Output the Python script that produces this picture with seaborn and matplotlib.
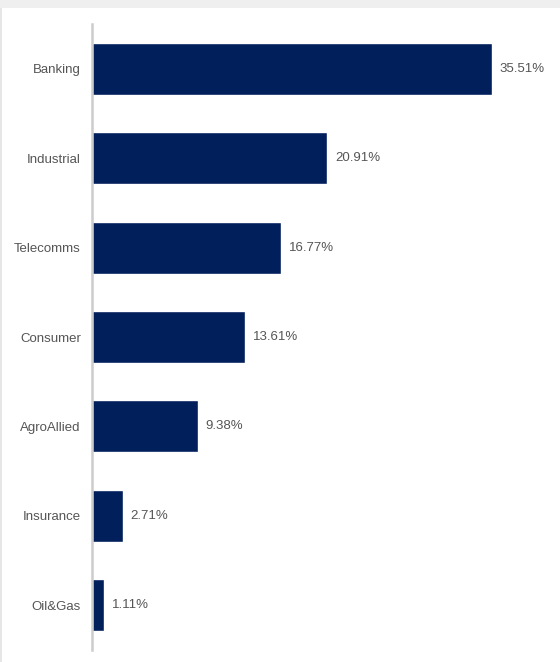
import matplotlib
matplotlib.use("Agg")
import matplotlib.pyplot as plt
import seaborn as sns
import pandas as pd
from matplotlib.patches import Rectangle

categories = ["Banking", "Industrial", "Telecomms", "Consumer", "AgroAllied", "Insurance", "Oil&Gas"]
values = [35.51, 20.91, 16.77, 13.61, 9.38, 2.71, 1.11]
labels = ["35.51%", "20.91%", "16.77%", "13.61%", "9.38%", "2.71%", "1.11%"]

sns.set_style("white")
plt.rcParams['font.family'] = ['Liberation Sans', 'DejaVu Sans']

df = pd.DataFrame({"sector": categories, "share": values})

fig = plt.figure(figsize=(5.6, 6.62), dpi=100)
fig.patch.set_facecolor("white")
# top gray band and left edge line
fig.add_artist(Rectangle((0, 1 - 8 / 662), 1, 8 / 662, transform=fig.transFigure,
                         facecolor="#efefef", edgecolor="none", zorder=0))
fig.add_artist(Rectangle((0, 0), 1.5 / 560, 1 - 8 / 662, transform=fig.transFigure,
                         facecolor="#e6e6e6", edgecolor="none", zorder=0))

ax = fig.add_axes([92 / 560, 12 / 662, 456 / 560, 626 / 662])
sns.barplot(data=df, x="share", y="sector", order=categories, color="#001f5b",
            saturation=1, width=0.58, ax=ax)
ax.set_xlim(0, 40.5)
ax.set_ylim(6.5, -0.5)
ax.set_xlabel("")
ax.set_ylabel("")
ax.set_xticks([])
for s in ["top", "right", "bottom"]:
    ax.spines[s].set_visible(False)
ax.spines["left"].set_color("#cccccc")
ax.spines["left"].set_linewidth(1.8)
ax.tick_params(axis="y", length=0, pad=8, labelsize=9.5, labelcolor="#555555")

for i, (v, lab) in enumerate(zip(values, labels)):
    ax.text(v + 0.7, i, lab, va="center", ha="left", fontsize=9.5, color="#555555")

fig.savefig("out.png", dpi=100)
